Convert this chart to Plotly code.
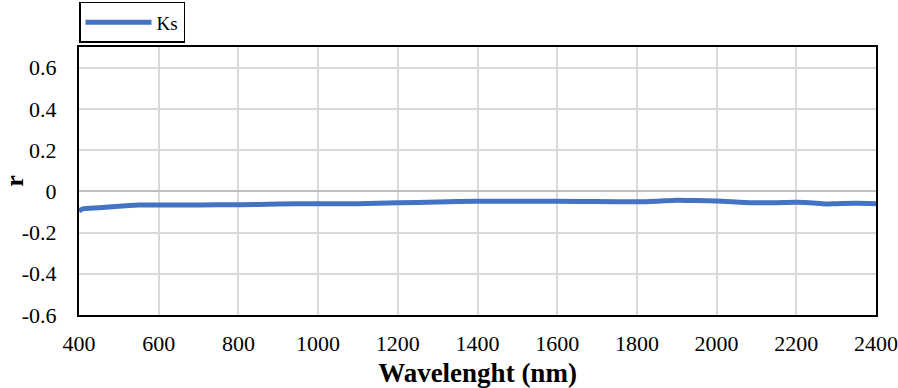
import plotly.graph_objects as go

wavelength = [400, 410, 450, 500, 550, 600, 700, 800, 900, 1000, 1100, 1200, 1300, 1400,
              1500, 1600, 1700, 1800, 1850, 1900, 1950, 2000, 2050, 2100, 2150, 2200,
              2250, 2275, 2300, 2350, 2400]
ks_r = [-0.095, -0.085, -0.080, -0.072, -0.067, -0.066, -0.066, -0.065, -0.062, -0.060,
        -0.060, -0.056, -0.052, -0.048, -0.048, -0.048, -0.050, -0.051, -0.048, -0.043,
        -0.045, -0.047, -0.052, -0.056, -0.055, -0.053, -0.058, -0.062, -0.060, -0.058, -0.060]

x_ticks = [400, 600, 800, 1000, 1200, 1400, 1600, 1800, 2000, 2200, 2400]
y_ticks = [-0.6, -0.4, -0.2, 0, 0.2, 0.4, 0.6]
y_tick_text = ["-0.6", "-0.4", "-0.2", "0", "0.2", "0.4", "0.6"]

font_family = "Liberation Serif"

fig = go.Figure()
fig.add_trace(go.Scatter(
    x=wavelength, y=ks_r, mode="lines", name="Ks",
    line=dict(color="#4472C4", width=5, shape="spline", smoothing=0.6),
))

fig.update_layout(
    width=898, height=388,
    margin=dict(l=79, r=22, t=47, b=73, autoexpand=False),
    paper_bgcolor="white", plot_bgcolor="white",
    font=dict(family=font_family, size=22, color="black"),
    showlegend=True,
    legend=dict(
        x=0, y=1.015, xanchor="left", yanchor="bottom",
        bordercolor="black", borderwidth=1.5, bgcolor="white",
        font=dict(family=font_family, size=19, color="black"),
        itemwidth=66, tracegroupgap=0,
    ),
    xaxis=dict(
        range=[400, 2400], tickvals=x_ticks, ticktext=[str(v) for v in x_ticks],
        showgrid=True, gridcolor="#d9d9d9", gridwidth=1.5,
        showline=True, linecolor="black", linewidth=2, mirror=True,
        ticks="", ticklabelstandoff=8, zeroline=False, automargin=False,
        tickfont=dict(family=font_family, size=22, color="black"),
        title=dict(text="<b>Wavelenght (nm)</b>", standoff=15,
                   font=dict(family=font_family, size=27, color="black")),
    ),
    yaxis=dict(
        range=[-0.6, 0.7], tickvals=y_ticks, ticktext=y_tick_text,
        showgrid=True, gridcolor="#d9d9d9", gridwidth=1.5,
        showline=True, linecolor="black", linewidth=2, mirror=True,
        ticks="", ticklabelstandoff=16, automargin=False,
        zeroline=True, zerolinecolor="#bfbfbf", zerolinewidth=1.5,
        tickfont=dict(family=font_family, size=22, color="black"),
        title=dict(text="<b>r</b>", standoff=3,
                   font=dict(family=font_family, size=26, color="black")),
    ),
)

fig.write_html("out.html", config={"displayModeBar": False},
               post_script="document.body.style.margin='0';")
